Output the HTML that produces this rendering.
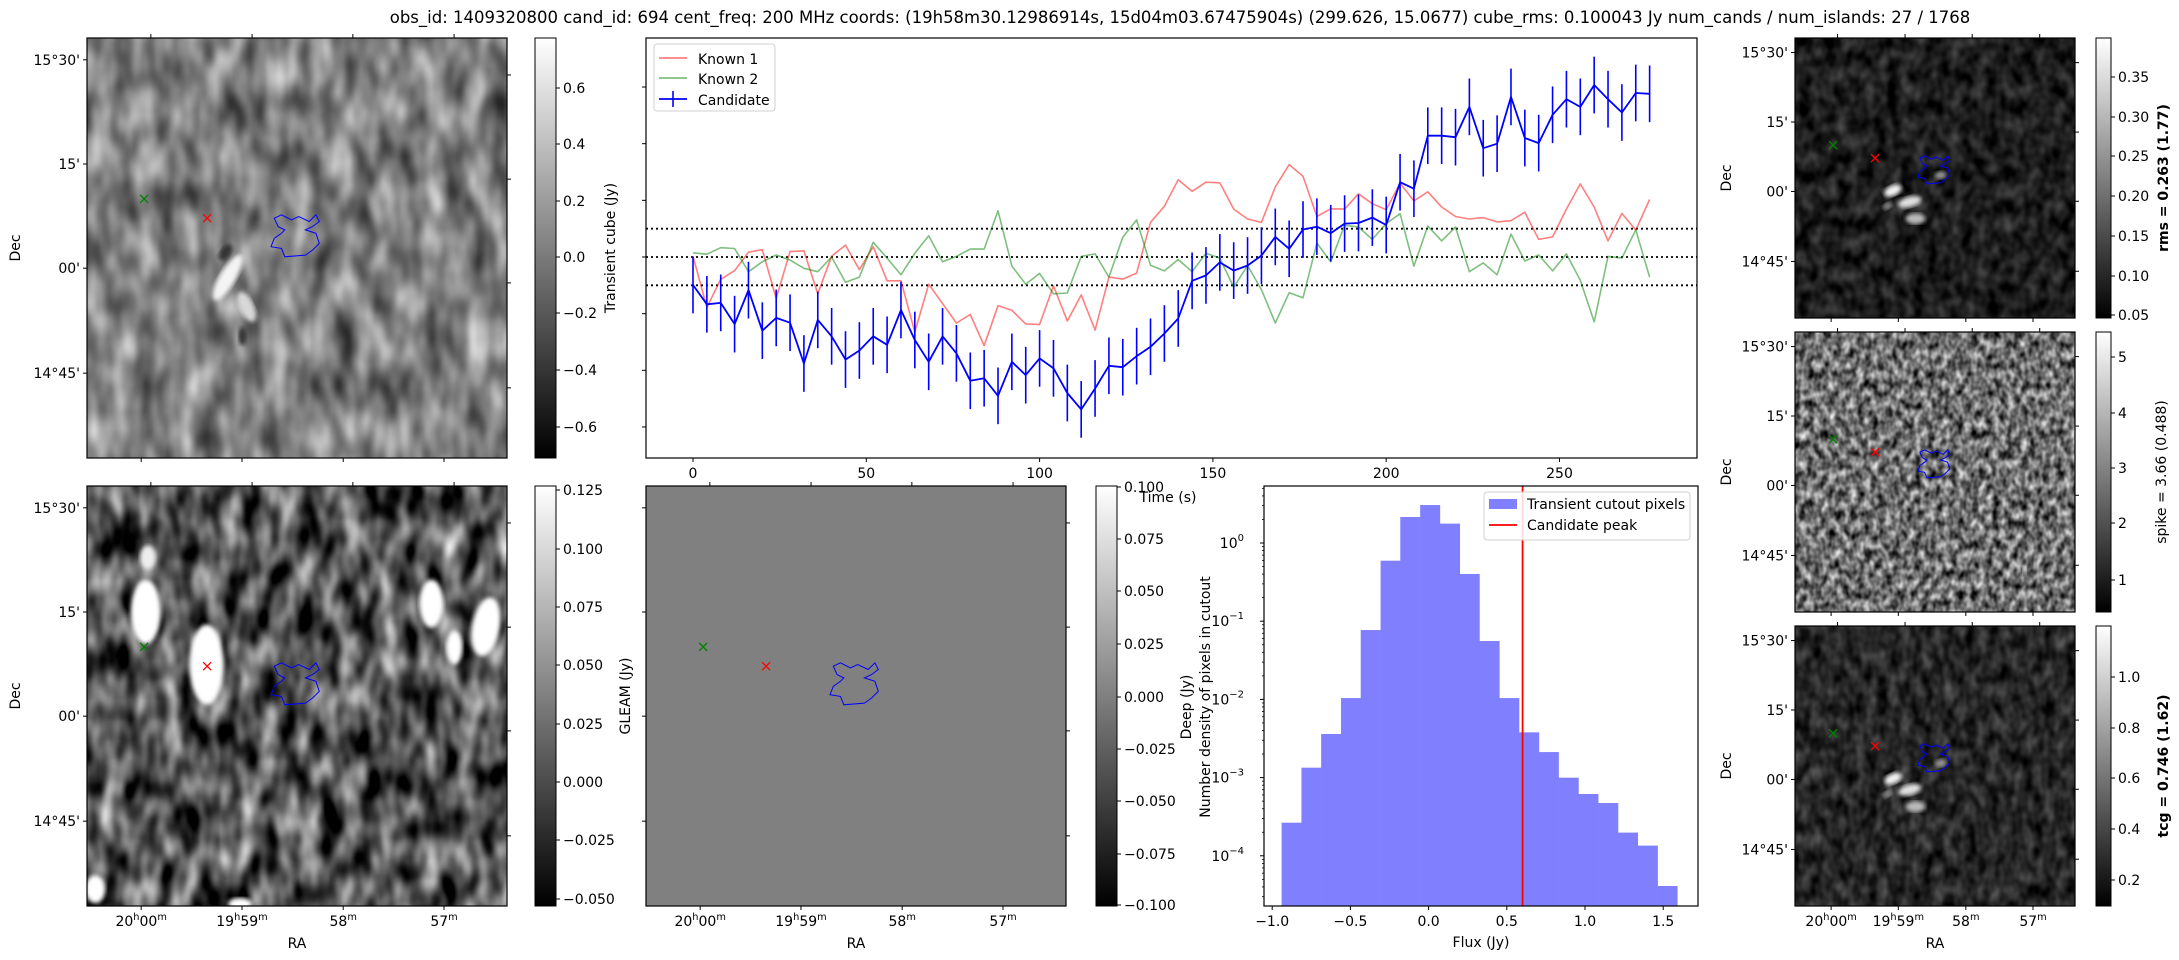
<!DOCTYPE html>
<html><head><meta charset="utf-8"><style>
html,body{margin:0;padding:0;background:#fff;}
svg{display:block;font-family:"DejaVu Sans","Liberation Sans",sans-serif;}
filter{color-interpolation-filters:sRGB;}
</style></head><body>
<svg id="fig" width="2179" height="960" viewBox="0 0 2179 960" xmlns="http://www.w3.org/2000/svg">
<defs>
 <linearGradient id="cbg" x1="0" y1="1" x2="0" y2="0"><stop offset="0" stop-color="#000"/><stop offset="1" stop-color="#fff"/></linearGradient>
 <filter id="nTL" x="0" y="0" width="1" height="1" color-interpolation-filters="sRGB"><feTurbulence type="fractalNoise" baseFrequency="0.045 0.022" numOctaves="2" seed="3"/><feColorMatrix type="matrix" values="0.9 0 0 0 0.05  0.9 0 0 0 0.05  0.9 0 0 0 0.05  0 0 0 0 1"/></filter>
 <filter id="nBL" x="0" y="0" width="1" height="1" color-interpolation-filters="sRGB"><feTurbulence type="fractalNoise" baseFrequency="0.05 0.025" numOctaves="2" seed="7"/><feColorMatrix type="matrix" values="1.5 0 0 0 -0.42  1.5 0 0 0 -0.42  1.5 0 0 0 -0.42  0 0 0 0 1"/></filter>
 <filter id="nR1" x="0" y="0" width="1" height="1" color-interpolation-filters="sRGB"><feTurbulence type="fractalNoise" baseFrequency="0.08 0.06" numOctaves="2" seed="11"/><feColorMatrix type="matrix" values="0.45 0 0 0 -0.11  0.45 0 0 0 -0.11  0.45 0 0 0 -0.11  0 0 0 0 1"/></filter>
 <filter id="nR2" x="0" y="0" width="1" height="1" color-interpolation-filters="sRGB"><feTurbulence type="fractalNoise" baseFrequency="0.14 0.1" numOctaves="2" seed="5"/><feColorMatrix type="matrix" values="1.3 0 0 0 -0.22  1.3 0 0 0 -0.22  1.3 0 0 0 -0.22  0 0 0 0 1"/></filter>
 <filter id="nR3" x="0" y="0" width="1" height="1" color-interpolation-filters="sRGB"><feTurbulence type="fractalNoise" baseFrequency="0.09 0.06" numOctaves="2" seed="13"/><feColorMatrix type="matrix" values="0.5 0 0 0 -0.1  0.5 0 0 0 -0.1  0.5 0 0 0 -0.1  0 0 0 0 1"/></filter>
 <filter id="blur2" color-interpolation-filters="sRGB"><feGaussianBlur stdDeviation="2"/></filter>
</defs>
<text x="1180" y="23" font-size="16.5" text-anchor="middle">obs_id: 1409320800 cand_id: 694 cent_freq: 200 MHz coords: (19h58m30.12986914s, 15d04m03.67475904s) (299.626, 15.0677) cube_rms: 0.100043 Jy num_cands / num_islands: 27 / 1768</text>
<g id="panels"></g>
<g id="lc"></g>
<g id="hist"></g>
</svg>
<script>
// ---------- Light curve data ----------
const lcTimes = [0,4,8,12,16,20,24,28,32,36,40,44,48,52,56,60,64,68,72,76,80,84,88,92,96,100,104,108,112,116,120,124,128,132,136,140,144,148,152,156,160,164,168,172,176,180,184,188,192,196,200,204,208,212,216,220,224,228,232,236,240,244,248,252,256,260,264,268,272,276];
const candidateFlux = [-0.099,-0.167,-0.162,-0.237,-0.117,-0.26,-0.215,-0.232,-0.376,-0.222,-0.28,-0.362,-0.33,-0.28,-0.31,-0.187,-0.293,-0.37,-0.28,-0.34,-0.437,-0.428,-0.49,-0.37,-0.417,-0.358,-0.393,-0.48,-0.538,-0.464,-0.384,-0.389,-0.35,-0.317,-0.27,-0.217,-0.084,-0.065,-0.019,-0.048,-0.03,0.005,0.071,0.029,0.097,0.107,0.084,0.118,0.12,0.139,0.113,0.264,0.241,0.428,0.428,0.423,0.53,0.384,0.4,0.565,0.42,0.402,0.502,0.557,0.53,0.607,0.557,0.51,0.579,0.576];
const candidateErr = [0.1,0.1,0.1,0.1,0.1,0.1,0.1,0.1,0.1,0.1,0.1,0.1,0.1,0.1,0.1,0.1,0.1,0.1,0.1,0.1,0.1,0.1,0.1,0.1,0.1,0.1,0.1,0.1,0.1,0.1,0.1,0.1,0.1,0.1,0.1,0.1,0.1,0.1,0.1,0.1,0.1,0.1,0.1,0.1,0.1,0.1,0.1,0.1,0.1,0.1,0.1,0.1,0.1,0.1,0.1,0.1,0.1,0.1,0.1,0.1,0.1,0.1,0.1,0.1,0.1,0.1,0.1,0.1,0.1,0.1];
const known1Flux = [0.003,-0.178,-0.079,-0.048,0.017,0.026,-0.146,0.019,0.022,-0.13,0.003,0.042,-0.045,0.036,-0.084,-0.084,-0.265,-0.096,-0.165,-0.233,-0.203,-0.313,-0.172,-0.188,-0.236,-0.238,-0.102,-0.226,-0.134,-0.258,-0.071,-0.078,-0.057,0.122,0.179,0.273,0.232,0.264,0.262,0.169,0.134,0.122,0.247,0.326,0.285,0.143,0.17,0.169,0.223,0.188,0.167,0.261,0.198,0.23,0.176,0.143,0.134,0.139,0.124,0.128,0.158,0.062,0.071,0.169,0.258,0.176,0.057,0.154,0.095,0.203];
const known2Flux = [0.015,0.01,0.033,0.03,-0.052,-0.017,0.007,-0.011,-0.04,-0.052,0.0,-0.089,-0.071,0.052,-0.004,-0.063,0.013,0.075,-0.017,0.002,0.028,0.028,0.163,-0.032,-0.096,-0.058,-0.13,-0.127,0.002,0.011,-0.071,0.07,0.131,-0.029,-0.049,-0.009,-0.052,0.013,-0.004,-0.107,-0.03,-0.115,-0.233,-0.126,-0.144,0.049,-0.017,0.112,0.106,0.062,0.118,0.153,-0.032,0.109,0.057,0.106,-0.052,-0.021,-0.063,0.081,-0.014,0.007,-0.049,0.011,-0.082,-0.229,0.002,-0.004,0.096,-0.071];
const lcXTicks = [0,50,100,150,200,250];
const lcYTicks = [-0.6,-0.4,-0.2,0,0.2,0.4,0.6];
const lcRefLines = [-0.1,0,0.1];
// ---------- Histogram data ----------
const binEdges = [-0.94,-0.813,-0.687,-0.56,-0.434,-0.307,-0.181,-0.054,0.072,0.199,0.325,0.452,0.578,0.705,0.831,0.958,1.084,1.211,1.337,1.464,1.59];
const binDensity = [2.65e-4,1.34e-3,3.61e-3,1.04e-2,7.71e-2,0.594,2.15,3.06,1.77,0.402,5.58e-2,1.04e-2,3.79e-3,2.12e-3,9.98e-4,6.17e-4,4.73e-4,1.98e-4,1.35e-4,4.11e-5];
const candidatePeak = 0.601;
const histXTicks = [-1.0,-0.5,0.0,0.5,1.0,1.5];
const histYExp = [0,-1,-2,-3,-4];

const NS = "http://www.w3.org/2000/svg";
function mk(tag, attrs, parent, txt){
  const e = document.createElementNS(NS, tag);
  for (const k in attrs) e.setAttribute(k, attrs[k]);
  if (txt !== undefined) e.textContent = txt;
  parent.appendChild(e);
  return e;
}
const FS = 14;

// ---------- Image panels ----------
const panels = document.getElementById('panels');
const contourFrac = [[0.446,0.429],[0.463,0.421],[0.487,0.433],[0.504,0.425],[0.529,0.437],[0.545,0.421],[0.553,0.437],[0.537,0.449],[0.520,0.457],[0.545,0.465],[0.553,0.489],[0.537,0.505],[0.520,0.517],[0.471,0.521],[0.463,0.501],[0.438,0.497],[0.446,0.477],[0.463,0.465],[0.471,0.457],[0.455,0.449]];

function raLabel(g, x, y, h, m, fs){
  const t = mk('text', {x:x, y:y, 'font-size':fs, 'text-anchor':'middle'}, g);
  if (h){ t.appendChild(document.createTextNode(h)); mk('tspan',{dy:-6,'font-size':fs*0.7},t,'h'); }
  mk('tspan', {dy: h? 6:0}, t, m);
  mk('tspan',{dy:-6,'font-size':fs*0.7},t,'m');
  return t;
}

function panel(name, x0, y0, size, fill, blobs, showRA, cb){
  const g = mk('g', {}, panels);
  
  
  const s = size/420;
  const img = mk('rect', {x:x0, y:y0, width:size, height:size, fill: fill.color, filter: fill.filter||''}, g);
  
  
  blobs.forEach(b => {
    const el = mk('ellipse', {cx:x0+b[0]*size, cy:y0+b[1]*size, rx:b[2]*s, ry:b[3]*s, fill:b[4], transform:`rotate(${b[5]||0} ${x0+b[0]*size} ${y0+b[1]*size})`, filter:'url(#blur2)'}, g);
    
    
  });
  const pts = contourFrac.map(p => (x0+p[0]*size).toFixed(1)+','+(y0+p[1]*size).toFixed(1)).join(' ');
  const ct = mk('polygon', {points:pts, fill:'none', stroke:'#0000ff', 'stroke-width':1}, g);
  
  
  const mkx = (fx, fy, col, nm) => {
    const cx=x0+fx*size, cy=y0+fy*size, r=4;
    const p = mk('path', {d:`M${cx-r},${cy-r}L${cx+r},${cy+r}M${cx-r},${cy+r}L${cx+r},${cy-r}`, stroke:col, 'stroke-width':1.3}, g);
    
    
  };
  mkx(0.136, 0.383, '#008000', 'known-source-marker');
  mkx(0.286, 0.429, '#ff0000', 'candidate-marker');
  mk('rect', {x:x0, y:y0, width:size, height:size, fill:'none', stroke:'#000', 'stroke-width':1.2}, g);
  const decF = [0.052,0.300,0.548,0.798];
  const decL = ["15°30'","15'","00'","14°45'"];
  const rtF = [0.088,0.336,0.583,0.833];
  const topF = [0.152,0.393,0.633,0.874];
  const botF = [0.129,0.369,0.610,0.850];
  decF.forEach((f,i)=>{ const y=y0+f*size; mk('line',{x1:x0-4,x2:x0,y1:y,y2:y,stroke:'#000'},g);
    if (cb.decLabels){ const t=mk('text',{x:x0-7,y:y+5,'font-size':FS,'text-anchor':'end'},g,decL[i]);   } });
  rtF.forEach(f=>{ const y=y0+f*size; mk('line',{x1:x0+size,x2:x0+size+4,y1:y,y2:y,stroke:'#000'},g); });
  topF.forEach(f=>{ const x=x0+f*size; mk('line',{x1:x,x2:x,y1:y0-4,y2:y0,stroke:'#000'},g); });
  const raH = ['20','19','',''], raM = ['00','59','58','57'];
  botF.forEach((f,i)=>{ const x=x0+f*size; mk('line',{x1:x,x2:x,y1:y0+size,y2:y0+size+4,stroke:'#000'},g);
    if (showRA){ const t=raLabel(g,x,y0+size+20,raH[i],raM[i],FS);   } });
  if (showRA){ const t=mk('text',{x:x0+size/2,y:y0+size+42,'font-size':FS,'text-anchor':'middle'},g,'RA');   }
  if (cb.decLabels){ const dx = x0 - (size>300?67:64); const t=mk('text',{x:dx,y:y0+size/2,'font-size':FS,'text-anchor':'middle',transform:`rotate(-90 ${dx} ${y0+size/2})`},g,'Dec');   }
  if (cb.x){
    const cbg = mk('g',{},g);
    
    
    mk('rect',{x:cb.x,y:y0,width:cb.w,height:size,fill:'url(#cbg)',stroke:'#000','stroke-width':1},cbg);
    cb.ticks.forEach(tk=>{ mk('line',{x1:cb.x+cb.w,x2:cb.x+cb.w+4,y1:tk[0],y2:tk[0],stroke:'#000'},cbg);
      const t=mk('text',{x:cb.x+cb.w+7,y:tk[0]+5,'font-size':FS},cbg,tk[1]);   });
    if (cb.label){ const lx=cb.lx, ly=y0+size/2; const t=mk('text',{x:lx,y:ly,'font-size':FS,'text-anchor':'middle','font-weight':cb.bold?'bold':'normal',transform:`rotate(-90 ${lx} ${ly})`},cbg,cb.label);   }
  }
}

const rightBlobs = [[0.35,0.545,14,8,'#f2f2f2',-25],[0.41,0.585,18,8,'#e0e0e0',-15],[0.43,0.645,15,8,'#bbb',0],[0.52,0.49,9,6,'#999',-10],[0.33,0.6,8,5,'#888',-30]];
panel('transient-cube-panel', 87, 38, 420, {color:'#808080', filter:'url(#nTL)'},
  [[0.33,0.51,5,9,'#333',35],[0.335,0.57,8,26,'#f4f4f4',30],[0.38,0.64,7,16,'#d8d8d8',-25],[0.37,0.71,4,9,'#333',0]], false,
  {decLabels:true, x:535, w:21, ticks:[[88,'0.6'],[144,'0.4'],[201,'0.2'],[257,'0.0'],[313,'\u22120.2'],[370,'\u22120.4'],[427,'\u22120.6']]});
panel('deep-image-panel', 87, 486, 420, {color:'#555', filter:'url(#nBL)'},
  [[0.14,0.30,15,32,'#fff',0],[0.285,0.425,17,40,'#fff',0],[0.82,0.28,12,24,'#fff',0],[0.95,0.335,14,30,'#fff',10],[0.875,0.385,8,17,'#fff',0],[0.145,0.17,8,12,'#eee',0],[0.02,0.96,10,14,'#fff',0],[0.365,0.995,12,6,'#fff',0]], true,
  {decLabels:true, x:535, w:21, ticks:[[490,'0.125'],[549,'0.100'],[607,'0.075'],[665,'0.050'],[724,'0.025'],[782,'0.000'],[840,'\u22120.025'],[899,'\u22120.050']]});
panel('gleam-panel', 646, 486, 420, {color:'#808080'}, [], true,
  {decLabels:false, x:1096, w:21, ticks:[[487,'0.100'],[539,'0.075'],[591,'0.050'],[644,'0.025'],[697,'0.000'],[749,'\u22120.025'],[801,'\u22120.050'],[854,'\u22120.075'],[905,'\u22120.100']]});
panel('rms-panel', 1795, 38, 280, {color:'#222', filter:'url(#nR1)'}, rightBlobs, false,
  {decLabels:true, x:2096, w:15, bold:true, lx:2168, label:'rms = 0.263 (1.77)', ticks:[[77,'0.35'],[117,'0.30'],[156,'0.25'],[196,'0.20'],[236,'0.15'],[276,'0.10'],[315,'0.05']]});
panel('spike-panel', 1795, 332, 280, {color:'#777', filter:'url(#nR2)'}, [[0.82,0.85,3,6,'#fff',0]], false,
  {decLabels:true, x:2096, w:15, lx:2166, label:'spike = 3.66 (0.488)', ticks:[[357,'5'],[413,'4'],[468,'3'],[523,'2'],[580,'1']]});
panel('tcg-panel', 1795, 626, 280, {color:'#262626', filter:'url(#nR3)'}, rightBlobs, true,
  {decLabels:true, x:2096, w:15, bold:true, lx:2168, label:'tcg = 0.746 (1.62)', ticks:[[677,'1.0'],[728,'0.8'],[778,'0.6'],[829,'0.4'],[880,'0.2']]});

{
  const t1 = mk('text',{x:615,y:248,'font-size':FS,'text-anchor':'middle',transform:'rotate(-90 615 248)'},panels,'Transient cube (Jy)');
   
  const t2 = mk('text',{x:630,y:696,'font-size':FS,'text-anchor':'middle',transform:'rotate(-90 630 696)'},panels,'GLEAM (Jy)');
   
}

// ---------- Light curve ----------
const lc = document.getElementById('lc');
const LX0=646, LX1=1697, LY0=38, LY1=458;
const xLC = t => 693 + t*3.466;
const yLC = v => 257 - v*283.3;
mk('rect',{x:LX0,y:LY0,width:LX1-LX0,height:LY1-LY0,fill:'#fff',stroke:'#000','stroke-width':1.2},lc);
lcRefLines.forEach(v=>{ const l=mk('line',{x1:LX0,x2:LX1,y1:yLC(v),y2:yLC(v),stroke:'#000','stroke-width':1.8,'stroke-dasharray':'2,3'},lc);
    });
lcYTicks.forEach(v=>{ mk('line',{x1:LX0-4,x2:LX0,y1:yLC(v),y2:yLC(v),stroke:'#000'},lc); });
lcXTicks.forEach(t=>{ mk('line',{x1:xLC(t),x2:xLC(t),y1:LY1,y2:LY1+4,stroke:'#000'},lc);
  const tx=mk('text',{x:xLC(t),y:LY1+20,'font-size':FS,'text-anchor':'middle'},lc,String(t));
    });
{
  const tt = mk('text',{x:1168,y:502,'font-size':FS,'text-anchor':'middle'},lc,'Time (s)');
   
}
function series(vals, col, w, nm){
  const d = vals.map((v,i)=>(i?'L':'M')+xLC(lcTimes[i]).toFixed(1)+','+yLC(v).toFixed(1)).join('');
  const p = mk('path',{d:d,fill:'none',stroke:col,'stroke-width':w,'stroke-linejoin':'round'},lc);
  
  
}
series(known1Flux,'rgba(255,0,0,0.5)',1.6,'known1-line');
series(known2Flux,'rgba(0,128,0,0.5)',1.6,'known2-line');
candidateFlux.forEach((v,i)=>{
  const x=xLC(lcTimes[i]);
  const e=mk('line',{x1:x,x2:x,y1:yLC(v+candidateErr[i]),y2:yLC(v-candidateErr[i]),stroke:'#0000ff','stroke-width':1.6},lc);
  
  
});
series(candidateFlux,'#0000ff',1.8,'candidate-line');
{
  const lg = mk('g',{},lc);
   
  mk('rect',{x:654,y:44,width:121,height:67,rx:3,fill:'#fff',stroke:'#d0d0d0'},lg);
  const items=[['Known 1','rgba(255,0,0,0.5)',64],['Known 2','rgba(0,128,0,0.5)',84],['Candidate','#0000ff',105]];
  items.forEach((it,i)=>{ mk('line',{x1:659,x2:687,y1:it[2]-6,y2:it[2]-6,stroke:it[1],'stroke-width':1.8},lg);
    if(i==2) mk('line',{x1:673,x2:673,y1:it[2]-14,y2:it[2]+2,stroke:it[1],'stroke-width':1.6},lg);
    const t=mk('text',{x:698,y:it[2],'font-size':FS},lg,it[0]);   });
}

// ---------- Histogram ----------
const hist = document.getElementById('hist');
const HX0=1264, HX1=1698, HY0=486, HY1=906;
const xH = f => 1428.6 + f*156.4;
const yH = d => 543 - Math.log10(d)*78.2;
binDensity.forEach((d,i)=>{
  const x0=xH(binEdges[i]), x1=xH(binEdges[i+1]);
  const r=mk('rect',{x:x0,y:yH(d),width:x1-x0+0.3,height:HY1-yH(d),fill:'#8080ff'},hist);
  
  
});
{
  const pl=mk('line',{x1:xH(candidatePeak),x2:xH(candidatePeak),y1:HY0,y2:HY1,stroke:'#ff0000','stroke-width':1.8},hist);
   
}
mk('rect',{x:HX0,y:HY0,width:HX1-HX0,height:HY1-HY0,fill:'none',stroke:'#000','stroke-width':1.2},hist);
histXTicks.forEach(f=>{ mk('line',{x1:xH(f),x2:xH(f),y1:HY1,y2:HY1+4,stroke:'#000'},hist);
  const t=mk('text',{x:xH(f),y:HY1+20,'font-size':FS,'text-anchor':'middle'},hist,(f<0?'\u2212':'')+Math.abs(f).toFixed(1));
    });
histYExp.forEach(e=>{ const y=yH(Math.pow(10,e)); mk('line',{x1:HX0-4,x2:HX0,y1:y,y2:y,stroke:'#000'},hist);
  const t=mk('text',{x:HX0-20,y:y+5,'font-size':FS,'text-anchor':'end'},hist,'10');
  mk('tspan',{dy:-7,'font-size':10},t,(e<0?'\u2212':'')+Math.abs(e));
   
  for(let k=2;k<10;k++){ const ym=yH(k*Math.pow(10,e)); if(ym>HY0 && ym<HY1) mk('line',{x1:HX0-2,x2:HX0,y1:ym,y2:ym,stroke:'#000','stroke-width':0.8},hist); }
});
for(let k=2;k<10;k++){ const ym=yH(k*1e-5); if(ym>HY0&&ym<HY1) mk('line',{x1:HX0-2,x2:HX0,y1:ym,y2:ym,stroke:'#000','stroke-width':0.8},hist); }
{
  const t1=mk('text',{x:1210,y:697,'font-size':FS,'text-anchor':'middle',transform:'rotate(-90 1210 697)'},hist,'Number density of pixels in cutout');
   
  const t2=mk('text',{x:1191,y:707,'font-size':FS,'text-anchor':'middle',transform:'rotate(-90 1191 707)'},hist,'Deep (Jy)');
   
  const t3=mk('text',{x:1481,y:947,'font-size':FS,'text-anchor':'middle'},hist,'Flux (Jy)');
   
  const lg=mk('g',{},hist);
   
  mk('rect',{x:1484,y:492,width:206,height:48,rx:3,fill:'#fff','fill-opacity':0.85,stroke:'#d0d0d0'},lg);
  mk('rect',{x:1489,y:499,width:28,height:10,fill:'#8080ff'},lg);
  const a=mk('text',{x:1527,y:509,'font-size':FS},lg,'Transient cutout pixels');  
  mk('line',{x1:1489,x2:1517,y1:525,y2:525,stroke:'#ff0000','stroke-width':1.8},lg);
  const b=mk('text',{x:1527,y:530,'font-size':FS},lg,'Candidate peak');  
}
</script>
</body></html>
